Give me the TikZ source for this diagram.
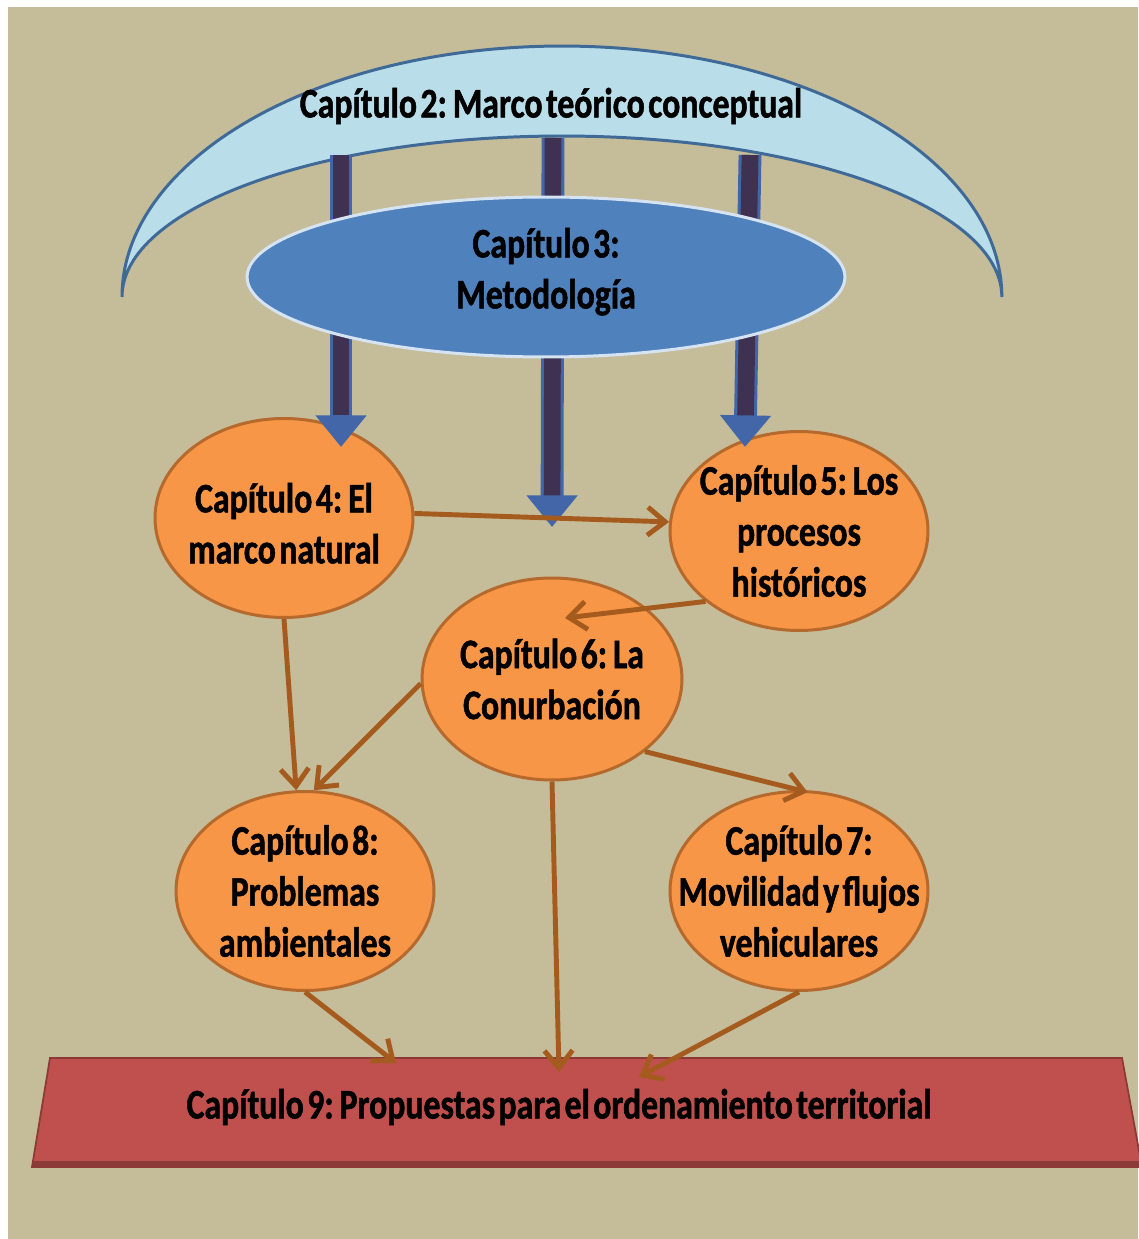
\documentclass[tikz,border=0pt]{standalone}
\usepackage{fontspec}
\newfontfamily\capfont{Carlito}[FakeStretch=0.8,WordSpace=0.45,FakeBold=1.2]
\definecolor{bgc}{HTML}{C5BC99}
\definecolor{moonc}{HTML}{B9DDE9}
\definecolor{moonedge}{HTML}{3F6A98}
\definecolor{metc}{HTML}{4F81BD}
\definecolor{metedge}{HTML}{D5E3F2}
\definecolor{chapc}{HTML}{F79646}
\definecolor{chapedge}{HTML}{B5692C}
\definecolor{linkc}{HTML}{A65B1E}
\definecolor{shaftc}{HTML}{3F3151}
\definecolor{headc}{HTML}{4266A8}
\definecolor{propc}{HTML}{C0504D}
\definecolor{propedge}{HTML}{8C3A38}
\usetikzlibrary{arrows.meta,calc,shapes.geometric}
\tikzset{
  lbl/.style={font=\capfont\bfseries\fontsize{24}{29}\selectfont,align=center,text=black,inner sep=0pt},
  chap/.style={ellipse,draw=chapedge,line width=1.7pt,fill=chapc,minimum width=5.16cm,minimum height=3.98cm,inner sep=0pt},
  metod/.style={ellipse,draw=metedge,line width=1.7pt,fill=metc,minimum width=11.96cm,minimum height=3.2cm,inner sep=0pt},
  moon/.style={draw=moonedge,fill=moonc,line width=1.7pt},
  prop/.style={draw=propedge,fill=propc,line width=1pt},
  bighead/.style={draw=headc,line width=13pt,-{Triangle[width=28pt,length=18pt]}},
  bigshaft/.style={draw=shaftc,line width=9.5pt,shorten >=18pt},
  link/.style={draw=linkc,line width=2.8pt,-{Straight Barb[length=10pt,width=16pt]}},
}

\begin{document}
\begin{tikzpicture}[x=0.02cm,y=-0.02cm]
  \useasboundingbox (0,0) rectangle (1138,1239);
  \fill[white] (0,0) rectangle (1138,1239);
  \fill[bgc] (8,7) rectangle (1138,1239);
  % capitulo 2
  \draw[moon] (122,297) arc[start angle=180,end angle=0,x radius=8.8cm,y radius=5.02cm]
    arc[start angle=0,end angle=180,x radius=8.8cm,y radius=3.22cm] -- cycle;
  \node[lbl] (cap2) at (551,106) {Capítulo 2: Marco teórico conceptual};
  % capitulos 4 a 8
  \node[chap,label={[lbl,yshift=-3pt]center:Capítulo 4: El\\marco natural}] (cap4) at (284,518) {};
  \node[chap,label={[lbl]center:Capítulo 5: Los\\procesos\\históricos}] (cap5) at (799,531) {};
  \node[chap,minimum width=5.2cm,minimum height=4.04cm,label={[lbl]center:Capítulo 6: La\\Conurbación}] (cap6) at (552,679) {};
  \node[chap,label={[lbl]center:Capítulo 7:\\Movilidad y flujos\\vehiculares}] (cap7) at (799,891) {};
  \node[chap,label={[lbl]center:Capítulo 8:\\Problemas\\ambientales}] (cap8) at (305,891) {};
  % flechas de la metodologia
  \coordinate (pl) at (341,155);
  \coordinate (pm) at (553,138);
  \coordinate (pr) at (750,155);
  \coordinate (tl) at ($(cap4.center)+(57,-71)$);
  \coordinate (tm) at (552,527);
  \coordinate (tr) at ($(cap5.center)+(-54,-84)$);
  \foreach \s/\t in {pl/tl,pm/tm,pr/tr} {
    \draw[bighead] (\s) -- (\t);
    \draw[bigshaft] (\s) -- (\t);
  }
  \node[metod,label={[lbl,yshift=3pt]center:Capítulo 3:\\Metodología}] (cap3) at (546,277) {};
  % capitulo 9
  \draw[prop] (50,1058) -- (1122,1058) -- (1142,1167) -- (32,1167) -- cycle;
  \draw[propedge,line width=3pt] (33,1164) -- (1142,1164);
  \node[lbl] (cap9) at (559,1107) {Capítulo 9: Propuestas para el ordenamiento territorial};
  % relaciones
  \draw[link] (cap4.2) -- (cap5.176);
  \draw[link] (cap5.217) -- ($(cap6.center)+(13,-61)$);
  \draw[link] (cap4.south) -- (cap8.95);
  \draw[link] (cap6.182) -- (cap8.85);
  \draw[link,shorten >=-5pt] (cap6.-38) -- (cap7.north);
  \draw[link] (cap6.south) -- ($(cap9.center)+(0,-35)$);
  \draw[link] (cap8.south) -- ($(cap9.center)+(-163,-44)$);
  \draw[link] (cap7.south) -- ($(cap9.center)+(80,-30)$);
\end{tikzpicture}
\end{document}
